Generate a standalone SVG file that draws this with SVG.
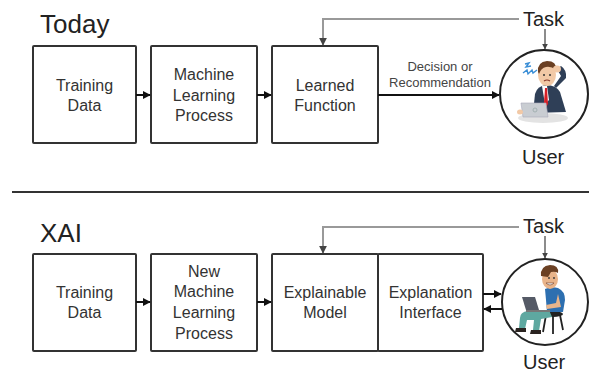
<svg xmlns="http://www.w3.org/2000/svg" width="589" height="372" viewBox="0 0 589 372">
  <style>
    .box { fill: #fff; stroke: #333; stroke-width: 2; }
    .txt { font-family: "Liberation Sans", Arial, sans-serif; font-size: 16px; fill: #333; text-anchor: middle; }
    .title { font-family: "Liberation Sans", Arial, sans-serif; font-size: 26px; fill: #222; }
    .lbl { font-family: "Liberation Sans", Arial, sans-serif; font-size: 20px; fill: #222; }
    .small { font-family: "Liberation Sans", Arial, sans-serif; font-size: 13px; fill: #444; text-anchor: middle; }
    .flow { stroke: #111; stroke-width: 2; fill: none; }
    .fb { stroke: #999; stroke-width: 2; fill: none; }
    .circ { fill: #fff; stroke: #222; stroke-width: 2; }
  </style>
  <defs>
    <marker id="ah" viewBox="0 0 10 10" refX="9" refY="5" markerWidth="4" markerHeight="4" orient="auto-start-reverse">
      <path d="M0,0 L10,5 L0,10 z" fill="#111"/>
    </marker>
    <marker id="ahg" viewBox="0 0 10 10" refX="9" refY="5" markerWidth="4" markerHeight="4" orient="auto">
      <path d="M0,0 L10,5 L0,10 z" fill="#444"/>
    </marker>
  </defs>

  <rect width="589" height="372" fill="#fff"/>

  <!-- section titles -->
  <text class="title" x="40" y="33">Today</text>
  <text class="title" x="40" y="242">XAI</text>

  <!-- separator -->
  <line x1="12" y1="192" x2="589" y2="192" stroke="#333" stroke-width="2"/>

  <!-- ===== Today row ===== -->
  <g id="today-training">
    <rect class="box" x="33" y="46" width="103" height="97" rx="1"/>
    <text class="txt" x="84.5" y="91">Training</text>
    <text class="txt" x="84.5" y="111">Data</text>
  </g>
  <g id="today-ml">
    <rect class="box" x="151" y="46" width="106" height="97" rx="1"/>
    <text class="txt" x="204" y="80">Machine</text>
    <text class="txt" x="204" y="101">Learning</text>
    <text class="txt" x="204" y="121">Process</text>
  </g>
  <g id="today-learned">
    <rect class="box" x="272" y="46" width="106" height="97" rx="1"/>
    <text class="txt" x="325" y="91">Learned</text>
    <text class="txt" x="325" y="111">Function</text>
  </g>
  <g id="today-task">
    <text class="lbl" x="523" y="26">Task</text>
  </g>
  <g id="today-user">
    <circle class="circ" cx="544" cy="94" r="44"/>
    <!-- desk -->
    <ellipse cx="543" cy="118" rx="25" ry="5" fill="#e3e3e3"/>
    <!-- suit body -->
    <path d="M533,113 L535,94 Q537,86 546,85 Q556,85 560,92 L566,112 Z" fill="#2f3f57"/>
    <!-- raised arm -->
    <path d="M556,88 L566,78 Q567,70 561,66 L557,69 L561,76 L554,86 Z" fill="#2f3f57"/>
    <!-- shirt and tie -->
    <path d="M542,86 L547,86 L549,100 L545,104 Z" fill="#fff"/>
    <path d="M545,88 L547,88 L548,104 L545.5,108 L544,103 Z" fill="#d62027"/>
    <!-- head -->
    <ellipse cx="547" cy="75" rx="9" ry="11" fill="#f2c9a6"/>
    <path d="M538,72 Q537,62 547,61 Q557,61 556,70 Q551,66 546,67 Q541,68 539,74 Z" fill="#6b4023"/>
    <ellipse cx="557" cy="69" rx="4" ry="3.5" fill="#f2c9a6"/>
    <circle cx="544" cy="75" r="1" fill="#333"/>
    <circle cx="550" cy="75" r="1" fill="#333"/>
    <path d="M544,81 Q547,79 550,81" stroke="#8a3a2a" stroke-width="1.2" fill="none"/>
    <!-- laptop -->
    <path d="M521,103 L546,103 L548,117 L523,117 Z" fill="#c9cdd2" stroke="#aab" stroke-width="0.6"/>
    <circle cx="535" cy="110" r="2" fill="none" stroke="#9aa" stroke-width="0.8"/>
    <ellipse cx="520" cy="112" rx="3" ry="2.5" fill="#f2c9a6"/>
    <!-- stress squiggles -->
    <path d="M525,64 L529,63 L526,67 L531,66" stroke="#3a8ed6" stroke-width="1.4" fill="none"/>
    <path d="M523,73 L527,70 L528,74 L532,70 L533,73 L537,70" stroke="#3a8ed6" stroke-width="1.4" fill="none"/>
    <text class="lbl" x="522" y="164">User</text>
  </g>

  <!-- ===== XAI row ===== -->
  <g id="xai-training">
    <rect class="box" x="33" y="254" width="103" height="97" rx="1"/>
    <text class="txt" x="84.5" y="298">Training</text>
    <text class="txt" x="84.5" y="318">Data</text>
  </g>
  <g id="xai-ml">
    <rect class="box" x="151" y="254" width="106" height="97" rx="1"/>
    <text class="txt" x="204" y="277">New</text>
    <text class="txt" x="204" y="297">Machine</text>
    <text class="txt" x="204" y="318">Learning</text>
    <text class="txt" x="204" y="339">Process</text>
  </g>
  <g id="xai-model">
    <rect class="box" x="272" y="254" width="106" height="97" rx="1"/>
    <text class="txt" x="325" y="298">Explainable</text>
    <text class="txt" x="325" y="318">Model</text>
  </g>
  <g id="xai-interface">
    <rect class="box" x="378" y="254" width="105" height="97" rx="1"/>
    <text class="txt" x="430.5" y="298">Explanation</text>
    <text class="txt" x="430.5" y="318">Interface</text>
  </g>
  <g id="xai-task">
    <text class="lbl" x="523" y="233">Task</text>
  </g>
  <g id="xai-user">
    <circle class="circ" cx="545" cy="302" r="43"/>
    <!-- stool -->
    <ellipse cx="553" cy="314" rx="10" ry="3" fill="#222"/>
    <path d="M546,315 L543,332 M553,316 L553,334 M560,315 L563,330" stroke="#222" stroke-width="1.8"/>
    <!-- legs -->
    <path d="M549,310 L528,311 Q520,312 520,318 L519,328 L525,329 L527,320 L534,320 L533,330 L539,331 L541,319 L552,317 Z" fill="#5ea8a0"/>
    <path d="M516,328 L526,328 L526,332 L515,332 Z" fill="#2a2320"/>
    <path d="M531,330 L541,330 L541,334 L530,334 Z" fill="#2a2320"/>
    <!-- t-shirt -->
    <path d="M545,289 Q551,286 558,288 Q565,291 565,300 L563,312 L547,312 L546,300 Z" fill="#2d6fb0"/>
    <!-- arm -->
    <path d="M558,294 L561,307 L547,309 L546,305 L556,303 Z" fill="#e9b48a"/>
    <!-- head -->
    <ellipse cx="550" cy="279" rx="8" ry="10" fill="#e9b48a"/>
    <path d="M541,276 Q540,266 550,265 Q559,265 558,273 Q555,271 551,272 L548,277 Z" fill="#6b4023"/>
    <path d="M546,283 Q550,287 554,283 Z" fill="#fff" stroke="#6b3a26" stroke-width="0.6"/>
    <circle cx="549" cy="278" r="0.9" fill="#333"/>
    <circle cx="554" cy="278" r="0.9" fill="#333"/>
    <!-- laptop -->
    <path d="M522,297 L535,297 L539,310 L526,310 Z" fill="#555a66"/>
    <path d="M526,310 L550,310 L550,312 L526,312 Z" fill="#777"/>
    <text class="lbl" x="523" y="369">User</text>
  </g>

  <!-- ===== connectors ===== -->
  <g id="connectors">
    <!-- Today -->
    <line class="flow" x1="136" y1="95" x2="150" y2="95" marker-end="url(#ah)"/>
    <line class="flow" x1="257" y1="95" x2="271" y2="95" marker-end="url(#ah)"/>
    <line class="flow" x1="378" y1="95" x2="499" y2="95" marker-end="url(#ah)"/>
    <text class="small" x="440" y="71">Decision or</text>
    <text class="small" x="440" y="87">Recommendation</text>
    <polyline class="fb" points="519,19 323,19 323,45" marker-end="url(#ahg)"/>
    <line stroke="#666" stroke-width="1.5" x1="545" y1="29" x2="545" y2="49" marker-end="url(#ahg)"/>

    <!-- XAI -->
    <line class="flow" x1="136" y1="302" x2="150" y2="302" marker-end="url(#ah)"/>
    <line class="flow" x1="257" y1="302" x2="271" y2="302" marker-end="url(#ah)"/>
    <line class="flow" x1="483" y1="294" x2="501" y2="294" marker-end="url(#ah)"/>
    <line class="flow" x1="502" y1="309" x2="484" y2="309" marker-end="url(#ah)"/>
    <polyline class="fb" points="519,227 323,227 323,253" marker-end="url(#ahg)"/>
    <line stroke="#666" stroke-width="1.5" x1="545" y1="236" x2="545" y2="258" marker-end="url(#ahg)"/>
  </g>
</svg>
